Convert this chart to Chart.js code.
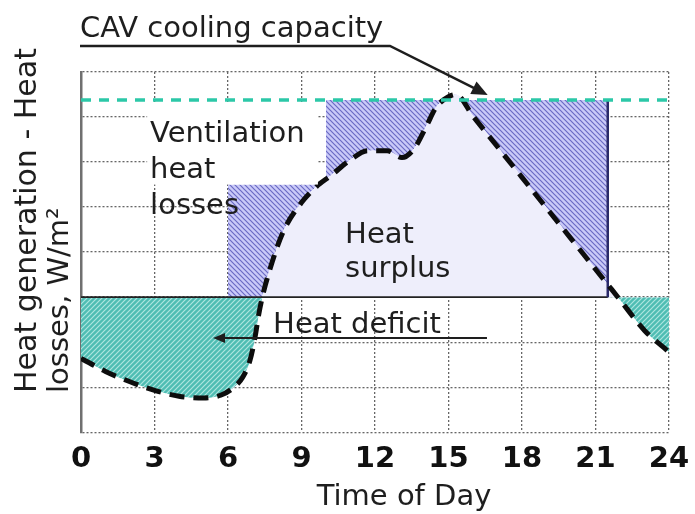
<!DOCTYPE html>
<html><head><meta charset="utf-8">
<script src="https://cdn.jsdelivr.net/npm/chart.js@4.4.1/dist/chart.umd.min.js"></script>
<style>html,body{margin:0;padding:0;background:#fff;} #wrap{width:695px;height:514px;position:relative;}</style>
</head><body><div id="wrap"><canvas id="c"></canvas></div>
<script>
// ---- data ----
const hours = [0,1,2,3,4,5,5.7,6.2,6.6,6.9,7.1,7.25,7.4,7.7,8.25,9,9.6,10.2,11,11.7,12.5,13.1,13.6,14.1,14.5,15,15.3,16,18,20,21.5,22,23,24];
const heatBalance = [1.64,1.35,1.12,0.93,0.8,0.76,0.82,0.98,1.22,1.6,2.1,2.6,3.0,3.6,4.45,5.1,5.45,5.7,6.05,6.25,6.25,6.1,6.3,6.8,7.22,7.45,7.5,7.02,5.66,4.3,3.28,2.94,2.26,1.78];
const xTicks = [0,3,6,9,12,15,18,21,24];
const capacityHours = [0,24];
const capacityLevel = [7.38,7.38];
const zeroHours = [0,21.5];
const zeroLevel = [3,3];
const ventHours = [6,10,10,21.5];
const ventLevel = [5.5,5.5,7.38,7.38];
const edgeHours = [21.5,21.5];
const edgeLevel = [7.38,3];
const yTitle = ['Heat generation - Heat','losses, W/m\u00B2'];
const xTitle = 'Time of Day';

const pts = (xs, ys) => xs.map((x,i)=>({x:x,y:ys[i]}));

function hatch(bg, fg, rising){
  const s=5, c=document.createElement('canvas'); c.width=s; c.height=s;
  const g=c.getContext('2d'); g.fillStyle=bg; g.fillRect(0,0,s,s);
  g.strokeStyle=fg; g.lineWidth=1.2; g.beginPath();
  if(rising){ g.moveTo(-1,s+1); g.lineTo(s+1,-1); g.moveTo(-2,2); g.lineTo(2,-2); g.moveTo(s-2,s+2); g.lineTo(s+2,s-2);}
  else { g.moveTo(-1,-1); g.lineTo(s+1,s+1); g.moveTo(s-2,-2); g.lineTo(s+2,2); g.moveTo(-2,s-2); g.lineTo(2,s+2);}
  g.stroke();
  return g.createPattern(c,'repeat');
}
const tealPat = hatch('#4fbdb3','#aee6e0',true);
const bluePat = hatch('#cacaf8','#6a6ac4',false);
const FONT = '"DejaVu Sans", Verdana, sans-serif';

const annot = {
  id:'annot',
  afterDatasetsDraw(chart){
    const ctx=chart.ctx, xs=chart.scales.x, ys=chart.scales.y;
    const X=v=>xs.getPixelForValue(v), Y=v=>ys.getPixelForValue(v);
    ctx.save();
    ctx.fillStyle='#ffffff';
    ctx.fillRect(X(2.7), Y(7.29), X(9.67)-X(2.7), Y(5.5)-Y(7.29));
    ctx.restore();
  },
  afterDraw(chart){
    const ctx=chart.ctx, xs=chart.scales.x, ys=chart.scales.y;
    const X=v=>xs.getPixelForValue(v), Y=v=>ys.getPixelForValue(v);
    ctx.save();
    ctx.fillStyle='#1e1e1e'; ctx.strokeStyle='#1e1e1e';
    ctx.font='29px '+FONT; ctx.textBaseline='alphabetic'; ctx.textAlign='left';
    // texts inside the plot
    ctx.fillText('Ventilation', X(2.82), Y(6.44));
    ctx.fillText('heat', X(2.82), Y(5.64));
    ctx.fillText('losses', X(2.82), Y(4.84));
    ctx.fillText('Heat', X(10.78), Y(4.2));
    ctx.fillText('surplus', X(10.78), Y(3.44));
    ctx.fillText('Heat deficit', X(7.84), Y(2.2));
    // Heat deficit arrow
    ctx.lineWidth=2;
    ctx.beginPath(); ctx.moveTo(X(16.57), Y(2.09)); ctx.lineTo(X(5.6), Y(2.09)); ctx.stroke();
    let tx=X(5.39), ty=Y(2.09);
    ctx.beginPath(); ctx.moveTo(tx,ty); ctx.lineTo(tx+12,ty-5); ctx.lineTo(tx+12,ty+5); ctx.closePath(); ctx.fill();
    // CAV label
    ctx.font='29px '+FONT;
    ctx.fillText('CAV cooling capacity', X(0)-1, 37);
    ctx.lineWidth=2.5;
    ctx.beginPath(); ctx.moveTo(X(0)-1, 46); ctx.lineTo(390, 46); 
    const ax=X(16.6), ay=Y(7.49);
    const ang=Math.atan2(ay-46, ax-390);
    const ex=ax-14*Math.cos(ang), ey=ay-14*Math.sin(ang);
    ctx.lineTo(ex, ey); ctx.stroke();
    ctx.beginPath(); ctx.moveTo(ax,ay);
    ctx.lineTo(ax-16*Math.cos(ang)+7*Math.sin(ang), ay-16*Math.sin(ang)-7*Math.cos(ang));
    ctx.lineTo(ax-16*Math.cos(ang)-7*Math.sin(ang), ay-16*Math.sin(ang)+7*Math.cos(ang));
    ctx.closePath(); ctx.fill();
    // axis titles
    ctx.font='29px '+FONT;
    ctx.textAlign='center'; ctx.textBaseline='alphabetic';
    ctx.fillText(xTitle, 404, 505);
    ctx.save(); ctx.translate(28, 393); ctx.rotate(-Math.PI/2);
    ctx.textAlign='left'; ctx.textBaseline='middle';
    ctx.font='30px '+FONT;
    ctx.fillText(yTitle[0], 0, 0);
    ctx.restore();
    ctx.save(); ctx.translate(60, 393); ctx.rotate(-Math.PI/2);
    ctx.textAlign='left'; ctx.textBaseline='middle';
    ctx.font='29px '+FONT;
    ctx.fillText(yTitle[1], 0, 0);
    ctx.restore();
    ctx.restore();
  }
};

new Chart(document.getElementById('c'), {
  type:'line',
  data:{ datasets:[
    { label:'CAV cooling capacity', data:pts(capacityHours,capacityLevel), borderColor:'#2cc8a8', borderWidth:3.5, borderDash:[10,8], fill:false, order:0 },
    { label:'Heat generation - heat losses', data:pts(hours,heatBalance), borderColor:'#0d0d0d', borderWidth:5, borderDash:[15,9], cubicInterpolationMode:'monotone',
      fill:{ target:{value:3}, above:'#eeeefb', below:tealPat }, order:1 },
    { label:'edge', data:pts(edgeHours,edgeLevel), borderColor:'#2a2a6a', borderWidth:2.5, fill:false, order:2 },
    { label:'zero', data:pts(zeroHours,zeroLevel), borderColor:'#222', borderWidth:1.6, fill:false, order:3 },
    { label:'Ventilation heat losses', data:pts(ventHours,ventLevel), borderWidth:0, borderColor:'rgba(0,0,0,0)',
      fill:{ target:1, above:bluePat, below:'rgba(0,0,0,0)' }, order:5 }
  ]},
  options:{
    responsive:true, maintainAspectRatio:false, animation:false,
    layout:{ padding:{ left:81, right:26, top:72, bottom:27 } },
    elements:{ point:{ radius:0 }, line:{ tension:0 } },
    plugins:{ legend:{display:false}, tooltip:{enabled:false}, filler:{ drawTime:'beforeDatasetsDraw' } },
    scales:{
      x:{ type:'linear', min:0, max:24,
        afterBuildTicks: s => { s.ticks = xTicks.map(v=>({value:v})); },
        afterFit: s => { s.paddingRight = 0; s.paddingLeft = 0; },
        ticks:{ font:{ family:FONT, size:29, weight:'bold' }, color:'#111', padding:10, maxRotation:0, autoSkip:false },
        grid:{ color:'#666', lineWidth:1.3, drawTicks:false },
        border:{ display:false, dash:[2,2] } },
      y:{ min:0, max:8,
        ticks:{ display:false, stepSize:1 },
        grid:{ color:'#666', lineWidth:1.3, drawTicks:false },
        border:{ display:true, color:'#707070', width:2.5, dash:[2,2] } }
    }
  },
  plugins:[annot]
});
</script></body></html>
